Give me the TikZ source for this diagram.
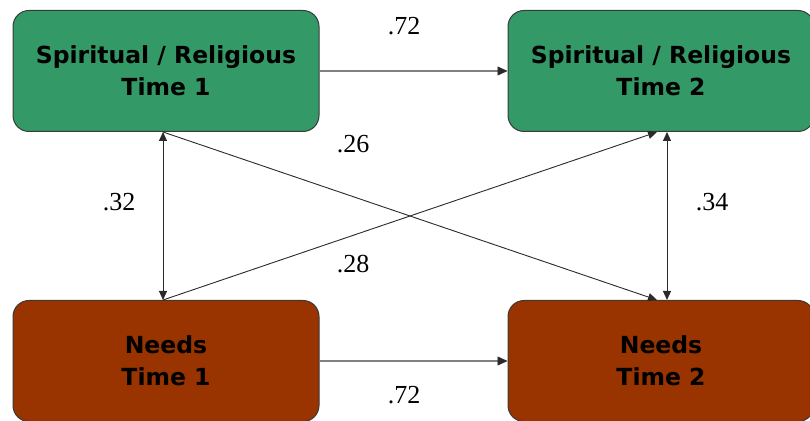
\documentclass[tikz,border=0pt]{standalone}
\usepackage{fontspec}
\setmainfont{Liberation Serif}
\newfontfamily\boxfont{DejaVu Sans}
\usetikzlibrary{arrows.meta}
\definecolor{spiritgreen}{HTML}{339966}
\definecolor{needsbrown}{HTML}{993300}
\definecolor{edgegray}{HTML}{3A3A3A}
\definecolor{pathgray}{HTML}{2A2A2A}
\tikzset{
  factor/.style={draw=edgegray, line width=1pt, rounded corners=16pt,
    minimum height=121pt, inner sep=0pt, align=center,
    font=\boxfont\bfseries\fontsize{23.5}{32}\selectfont},
  spirit/.style={factor, fill=spiritgreen, minimum width=306pt},
  needs/.style={factor, fill=needsbrown, minimum width=306pt},
  path arrow/.style={draw=pathgray, line width=0.9pt,
    -{Triangle[length=9pt,width=8pt]}},
  corr arrow/.style={draw=pathgray, line width=0.9pt,
    {Triangle[length=9pt,width=8pt]}-{Triangle[length=9pt,width=8pt]}},
  stab arrow/.style={draw=gray, line width=1.6pt,
    -{Triangle[length=10pt,width=9pt,color=pathgray,line width=0.5pt]}},
  coef/.style={font=\fontsize{26}{30}\selectfont}
}
\begin{document}
\begin{tikzpicture}[x=1pt,y=1pt]
\useasboundingbox (0,0) rectangle (810,420);
% latent factors
\node[spirit] (s1) at (166,349) {Spiritual / Religious\\Time 1};
\node[spirit] (s2) at (661,349) {Spiritual / Religious\\Time 2};
\node[needs]  (n1) at (166,59)  {Needs\\Time 1};
\node[needs]  (n2) at (661,59)  {Needs\\Time 2};
% stability paths
\draw[stab arrow] (s1.east) -- (s2.west);
\draw[stab arrow] (n1.east) -- (n2.west);
% cross-lagged paths
\coordinate (s1b) at ([xshift=-3pt]s1.south);
\coordinate (n1t) at ([xshift=-3pt]n1.north);
\coordinate (s2b) at ([xshift=-4pt]s2.south);
\coordinate (n2t) at ([xshift=-4pt]n2.north);
\draw[path arrow] (s1b) -- (n2t);
\draw[path arrow] (n1t) -- (s2b);
% within-time correlations
\coordinate (s1c) at ([xshift=-3pt]s1.south);
\coordinate (n1c) at ([xshift=-3pt]n1.north);
\coordinate (s2c) at ([xshift=6pt]s2.south);
\coordinate (n2c) at ([xshift=6pt]n2.north);
\draw[corr arrow] (s1c) -- (n1c);
\draw[corr arrow] (s2c) -- (n2c);
% coefficients
\node[coef] (c1) at (404,394) {.72};
\node[coef] (c2) at (404,25)  {.72};
\node[coef] (c3) at (353,276) {.26};
\node[coef] (c4) at (353,156) {.28};
\node[coef] (c5) at (119,218) {.32};
\node[coef] (c6) at (712,218) {.34};
\end{tikzpicture}
\end{document}
